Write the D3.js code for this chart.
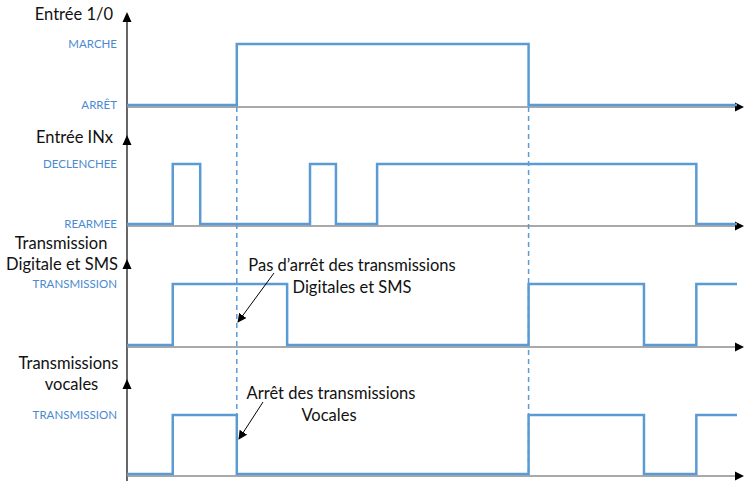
<!DOCTYPE html>
<html><head><meta charset="utf-8">
<script src="https://cdn.jsdelivr.net/npm/d3@7"></script>
<style>body{margin:0;background:#fff}svg{display:block}</style>
</head><body><svg id="c" width="744" height="481"></svg>
<script>
// ---- data ----
const timeEnd = 120;
const panelTitles = [["Entrée 1/0"], ["Entrée INx"], ["Transmission", "Digitale et SMS"], ["Transmissions", "vocales"]];
const stateLabels = [["ARRÊT", "MARCHE"], ["REARMEE", "DECLENCHEE"], ["", "TRANSMISSION"], ["", "TRANSMISSION"]];
const entreeTimes = [0, 21.6, 79];
const entreeValues = [0, 1, 0];
const inxTimes = [0, 9, 14.4, 36, 41.1, 49.2, 112];
const inxValues = [0, 1, 0, 1, 0, 1, 0];
const digTimes = [0, 9, 31.5, 79, 101.7, 112];
const digValues = [0, 1, 0, 1, 0, 1];
const vocTimes = [0, 9, 21.6, 79, 101.7, 112];
const vocValues = [0, 1, 0, 1, 0, 1];
const markerTimes = [21.6, 79];
const annotations = [
  {lines: ["Pas d\u2019arrêt des transmissions", "Digitales et SMS"], panel: 2},
  {lines: ["Arrêt des transmissions", "Vocales"], panel: 3}
];

// ---- layout ----
const svg = d3.select("#c");
const blue = "#5B9BD5", labelBlue = "#4A8AD0";
const x = d3.scaleLinear().domain([0, timeEnd]).range([127, 737]);
const axisY = [107, 226, 347, 476];
const highY = [44, 164, 284, 415];
const arrowTop = [12, 135, 259, 379];
const titleCenters = [null, null, [61, 62], [68.5, 71.5]];
const series = [[entreeTimes, entreeValues], [inxTimes, inxValues], [digTimes, digValues], [vocTimes, vocValues]];
const font = "Lato, 'Open Sans', sans-serif";

// y axis
svg.append("line").attr("x1", x(0)).attr("x2", x(0)).attr("y1", 14).attr("y2", 481)
  .attr("stroke", "#000").attr("stroke-width", 1.2);

series.forEach(([ts, vs], i) => {
  const y = d3.scaleLinear().domain([0, 1]).range([axisY[i] - 2, highY[i]]);
  // x axis
  svg.append("line").attr("x1", x(0)).attr("x2", 737).attr("y1", axisY[i]).attr("y2", axisY[i])
    .attr("stroke", "#8c8c8c").attr("stroke-width", 1.5);
  svg.append("path").attr("d", `M744,${axisY[i]} L735,${axisY[i]-4.5} L735,${axisY[i]+4.5} Z`).attr("fill", "#000");
  // y arrow
  svg.append("path").attr("d", `M${x(0)},${arrowTop[i]} L${x(0)-4.5},${arrowTop[i]+10} L${x(0)+4.5},${arrowTop[i]+10} Z`).attr("fill", "#000");
  // state labels
  const ax = d3.axisLeft(y).tickValues([0, 1]).tickSize(0).tickPadding(10).tickFormat(d => stateLabels[i][d]);
  const g = svg.append("g").attr("transform", `translate(${x(0)},0)`).call(ax);
  g.select(".domain").remove();
  g.selectAll("text").attr("fill", labelBlue).style("font-family", font).style("font-size", "11.5px");
  // signal
  const pts = ts.map((t, k) => [t, vs[k]]);
  pts.push([timeEnd, vs[vs.length - 1]]);
  svg.append("path").datum(pts)
    .attr("d", d3.line().x(d => x(d[0])).y(d => y(d[1])).curve(d3.curveStepAfter))
    .attr("fill", "none").attr("stroke", blue).attr("stroke-width", 2.5);
  // titles
  const lines = panelTitles[i];
  const t = svg.append("text").style("font-family", font).style("font-size", "16.5px").attr("fill", "#111");
  if (lines.length === 1) {
    t.attr("x", 113).attr("y", arrowTop[i] + 8).attr("text-anchor", "end").text(lines[0]);
  } else {
    lines.forEach((l, k) => t.append("tspan").attr("x", titleCenters[i][k]).attr("y", arrowTop[i] - 10 + k * 21).attr("text-anchor", "middle").text(l));
  }
});

// dashed markers
markerTimes.forEach(t => {
  svg.append("line").attr("x1", x(t)).attr("x2", x(t)).attr("y1", axisY[0]).attr("y2", axisY[3])
    .attr("stroke", blue).attr("stroke-width", 1.5).attr("stroke-dasharray", "5,4");
});

// annotations
const defs = svg.append("defs");
defs.append("marker").attr("id", "ah").attr("viewBox", "0 0 10 10").attr("refX", 9).attr("refY", 5)
  .attr("markerWidth", 9).attr("markerHeight", 9).attr("orient", "auto")
  .append("path").attr("d", "M0,0 L10,5 L0,10 Z").attr("fill", "#000");
const annoPos = [
  {cx: [352, 352], y0: 271, from: [274, 273], to: [238, 322]},
  {cx: [331, 329], y0: 399, from: [263, 402], to: [239, 439]}
];
annotations.forEach((a, k) => {
  const p = annoPos[k];
  const t = svg.append("text").style("font-family", font).style("font-size", "16.5px").attr("fill", "#111").attr("text-anchor", "middle");
  a.lines.forEach((l, j) => t.append("tspan").attr("x", p.cx[j]).attr("y", p.y0 + j * 22).text(l));
  svg.append("line").attr("x1", p.from[0]).attr("y1", p.from[1]).attr("x2", p.to[0]).attr("y2", p.to[1])
    .attr("stroke", "#000").attr("stroke-width", 1).attr("marker-end", "url(#ah)");
});
</script></body></html>
